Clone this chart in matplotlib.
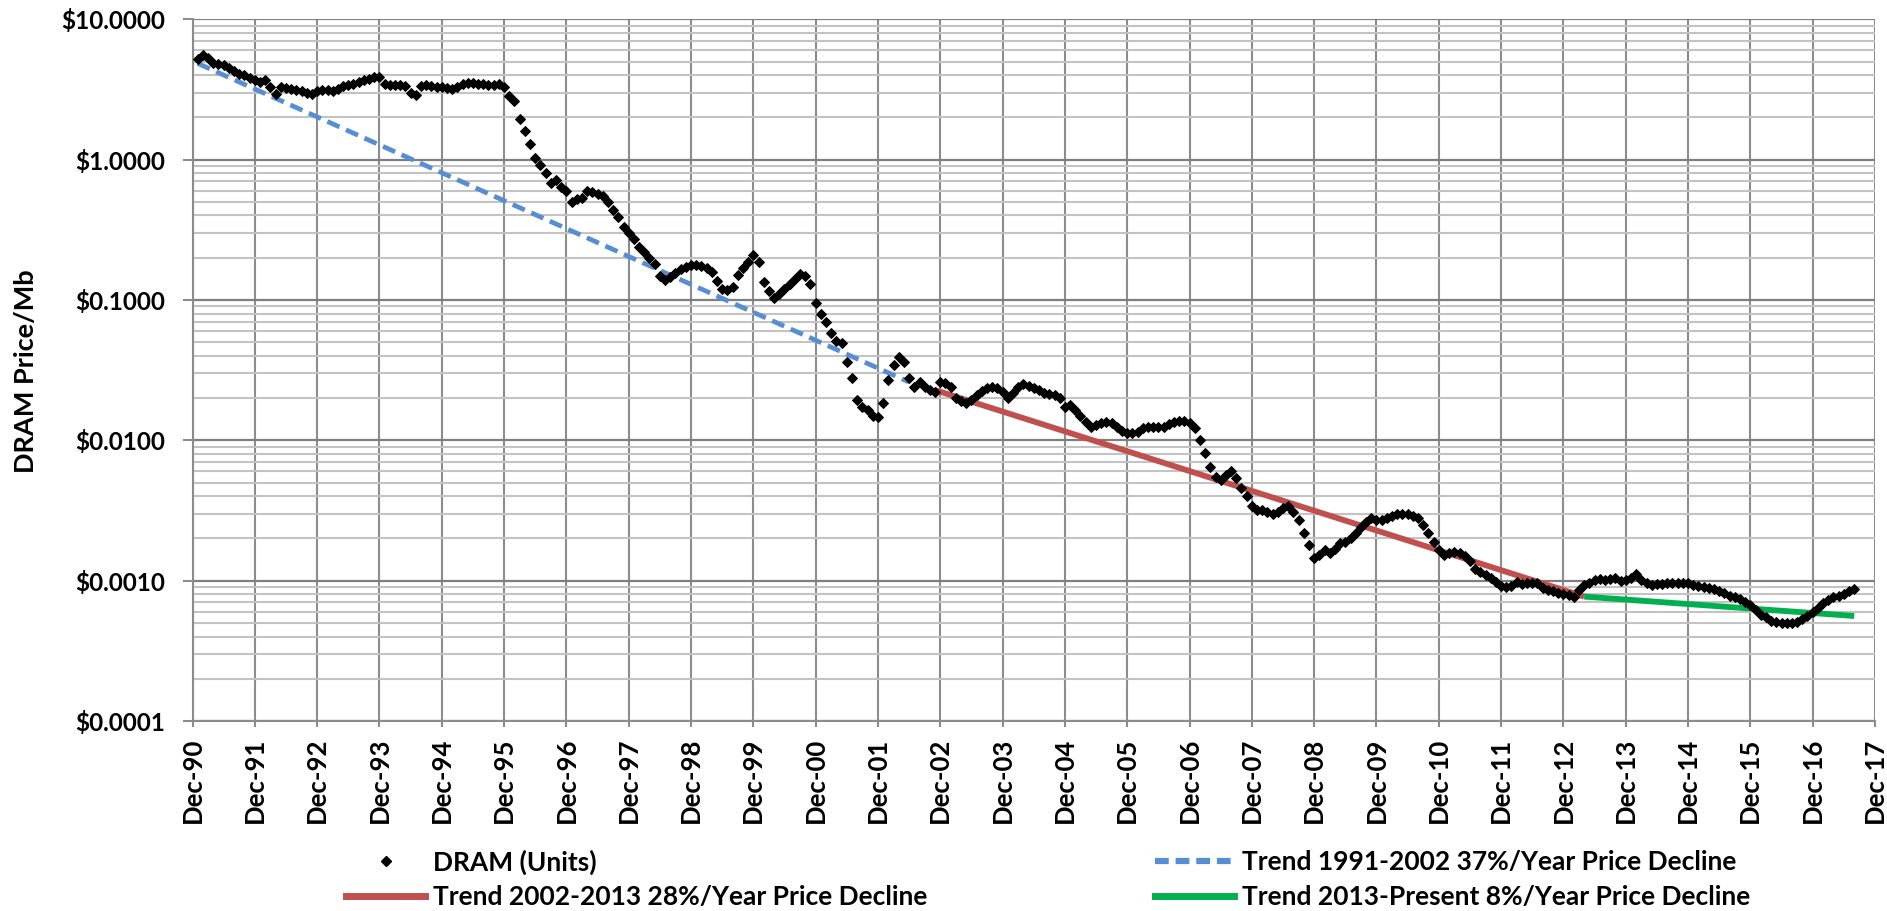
import matplotlib
matplotlib.use("Agg")
import matplotlib.pyplot as plt
from matplotlib.lines import Line2D
from matplotlib.ticker import LogLocator, NullFormatter
import numpy as np

plt.rcParams['font.family'] = ['Lato', 'DejaVu Sans']
plt.rcParams['font.weight'] = 'bold'

# monthly DRAM price per Mb, Jan through Dec of each year (last year ends in Aug)
p1991 = [5.2, 5.6, 5.3, 4.9, 4.8, 4.7, 4.5, 4.3, 4.1, 4.0, 3.8, 3.7]
p1992 = [3.6, 3.7, 3.3, 2.95, 3.3, 3.25, 3.2, 3.15, 3.1, 3.0, 2.93, 3.1]
p1993 = [3.15, 3.15, 3.1, 3.2, 3.35, 3.4, 3.45, 3.6, 3.7, 3.75, 3.85, 3.9]
p1994 = [3.45, 3.4, 3.4, 3.4, 3.35, 3.0, 2.9, 3.35, 3.4, 3.35, 3.3, 3.3]
p1995 = [3.25, 3.2, 3.3, 3.45, 3.5, 3.5, 3.45, 3.45, 3.4, 3.4, 3.45, 3.3]
p1996 = [2.85, 2.6, 1.95, 1.6, 1.3, 1.02, 0.92, 0.80, 0.68, 0.72, 0.64, 0.60]
p1997 = [0.50, 0.52, 0.53, 0.60, 0.59, 0.57, 0.55, 0.50, 0.44, 0.39, 0.33, 0.30]
p1998 = [0.27, 0.24, 0.22, 0.20, 0.18, 0.148, 0.139, 0.145, 0.155, 0.165, 0.172, 0.177]
p1999 = [0.178, 0.176, 0.170, 0.158, 0.137, 0.120, 0.118, 0.124, 0.150, 0.170, 0.185, 0.209]
p2000 = [0.185, 0.135, 0.115, 0.103, 0.110, 0.120, 0.131, 0.142, 0.152, 0.148, 0.131, 0.095]
p2001 = [0.080, 0.070, 0.058, 0.051, 0.049, 0.036, 0.028, 0.0194, 0.0173, 0.0164, 0.0150, 0.0147]
p2002 = [0.0183, 0.0269, 0.0343, 0.0394, 0.036, 0.0276, 0.0241, 0.0261, 0.0241, 0.0228, 0.0222, 0.0261]
p2003 = [0.0255, 0.0241, 0.0200, 0.0192, 0.0185, 0.0195, 0.0210, 0.0225, 0.0236, 0.0241, 0.0236, 0.0222]
p2004 = [0.0200, 0.0217, 0.0241, 0.0254, 0.0245, 0.0235, 0.0228, 0.0217, 0.0213, 0.0211, 0.0200, 0.0173]
p2005 = [0.0178, 0.0164, 0.0150, 0.0135, 0.0125, 0.0128, 0.0132, 0.0135, 0.0132, 0.0125, 0.0117, 0.0112]
p2006 = [0.0112, 0.0115, 0.0122, 0.0124, 0.0125, 0.0125, 0.0125, 0.0130, 0.0135, 0.0138, 0.0138, 0.0132]
p2007 = [0.0122, 0.0100, 0.0081, 0.0065, 0.0055, 0.0052, 0.0057, 0.0060, 0.0054, 0.0046, 0.0040, 0.0034]
p2008 = [0.0032, 0.0032, 0.0031, 0.0030, 0.0031, 0.0033, 0.0034, 0.0031, 0.0027, 0.0022, 0.0018, 0.00146]
p2009 = [0.00152, 0.00165, 0.00157, 0.00169, 0.00184, 0.00190, 0.0020, 0.0022, 0.0024, 0.0026, 0.0028, 0.0027]
p2010 = [0.0027, 0.0028, 0.0029, 0.0030, 0.0030, 0.0030, 0.0029, 0.0028, 0.0025, 0.0022, 0.0019, 0.00165]
p2011 = [0.00152, 0.00157, 0.00160, 0.00158, 0.00150, 0.00138, 0.00122, 0.00115, 0.00110, 0.00105, 0.00098, 0.00092]
p2012 = [0.00090, 0.00091, 0.00098, 0.00095, 0.00096, 0.00096, 0.00097, 0.00088, 0.00086, 0.00084, 0.00082, 0.00081]
p2013 = [0.00079, 0.00077, 0.00086, 0.00093, 0.00097, 0.00101, 0.00102, 0.00101, 0.00103, 0.00104, 0.00099, 0.00101]
p2014 = [0.00104, 0.00112, 0.00101, 0.00097, 0.00093, 0.00094, 0.00095, 0.00096, 0.00097, 0.00097, 0.00097, 0.00097]
p2015 = [0.00093, 0.00091, 0.00090, 0.00088, 0.00087, 0.00085, 0.00082, 0.00078, 0.00076, 0.00074, 0.00071, 0.00067]
p2016 = [0.00062, 0.00057, 0.00055, 0.00052, 0.00051, 0.00050, 0.00050, 0.00050, 0.00051, 0.00053, 0.00056, 0.00060]
p2017 = [0.00064, 0.00069, 0.00073, 0.00076, 0.00078, 0.00080, 0.00084, 0.00087]

# fitted trend segments: (month index since Dec-90, price at that month)
trend_1991_months = [1, 138]
trend_1991_values = [4.85, 0.026]
trend_2002_months = [143, 268]
trend_2002_values = [0.0228, 0.00077]
trend_2013_months = [268, 320]
trend_2013_values = [0.00077, 0.00056]

x_labels = ["Dec-90", "Dec-91", "Dec-92", "Dec-93", "Dec-94", "Dec-95", "Dec-96",
            "Dec-97", "Dec-98", "Dec-99", "Dec-00", "Dec-01", "Dec-02", "Dec-03",
            "Dec-04", "Dec-05", "Dec-06", "Dec-07", "Dec-08", "Dec-09", "Dec-10",
            "Dec-11", "Dec-12", "Dec-13", "Dec-14", "Dec-15", "Dec-16", "Dec-17"]
y_ticks = [1e-4, 1e-3, 1e-2, 1e-1, 1, 10]
y_labels = [r"\$0.0001", r"\$0.0010", r"\$0.0100", r"\$0.1000", r"\$1.0000", r"\$10.0000"]

prices = (p1991 + p1992 + p1993 + p1994 + p1995 + p1996 + p1997 + p1998 + p1999
          + p2000 + p2001 + p2002 + p2003 + p2004 + p2005 + p2006 + p2007 + p2008
          + p2009 + p2010 + p2011 + p2012 + p2013 + p2014 + p2015 + p2016 + p2017)
months = np.arange(1, len(prices) + 1)

BLUE = '#558ED5'
RED = '#C0504D'
GREEN = '#00B050'
GRID = '#8c8c8c'
GRID_MINOR = '#c3c3c3'

W, H = 1887, 911
fig = plt.figure(figsize=(W / 100, H / 100), dpi=100)
ax = fig.add_axes([192.5 / W, 1 - 721 / H, (1875 - 192.5) / W, (721 - 19.3) / H])

ax.set_yscale('log')
ax.set_ylim(1e-4, 10)
ax.set_xlim(0, 12 * (len(x_labels) - 1))

# grid
ax.set_xticks(np.arange(0, 12 * len(x_labels), 12))
ax.set_xticklabels(x_labels, rotation=90, fontsize=18.5, fontweight='bold')
ax.set_yticks(y_ticks)
ax.set_yticklabels(y_labels, fontsize=17.5, fontweight='bold')
ax.yaxis.set_minor_locator(LogLocator(base=10, subs=np.arange(2, 10)))
ax.yaxis.set_minor_formatter(NullFormatter())
ax.grid(which='major', axis='x', color=GRID, linewidth=1.5)
ax.grid(which='major', axis='y', color='#7f7f7f', linewidth=1.6)
ax.grid(which='minor', axis='y', color=GRID_MINOR, linewidth=1.5)
ax.set_axisbelow(True)
ax.tick_params(axis='y', which='major', length=7, width=1.5, color=GRID, pad=13)
ax.tick_params(axis='y', which='minor', length=0)
ax.tick_params(axis='x', which='major', length=4, width=1.5, color=GRID, pad=8)
for side in ['top', 'right']:
    ax.spines[side].set_visible(False)
for side in ['left', 'bottom']:
    ax.spines[side].set_color(GRID)
    ax.spines[side].set_linewidth(1.5)

# trends
ax.plot(trend_1991_months, trend_1991_values, color=BLUE, linewidth=3.4,
        dashes=(2.8, 1.5), zorder=2)
ax.plot(trend_2002_months, trend_2002_values, color=RED, linewidth=4.2,
        solid_capstyle='butt', zorder=2)
ax.plot(trend_2013_months, trend_2013_values, color=GREEN, linewidth=4.2,
        solid_capstyle='butt', zorder=2)

# price points
ax.plot(months, prices, linestyle='none', marker='D', markersize=5.2,
        markeredgewidth=0.7, color='black', zorder=3)

fig.text(26 / W, 1 - 371 / H, 'DRAM Price/Mb', rotation=90, ha='center',
         va='center', fontsize=19.5, fontweight='bold')

# legend, laid out as two columns under the axis
entries = [
    (Line2D([], [], linestyle='none', marker='D', markersize=5, color='black'),
     'DRAM (Units)', 346, 862),
    (Line2D([], [], color=RED, linewidth=5),
     'Trend 2002-2013 28%/Year Price Decline', 346, 897),
    (Line2D([], [], color=BLUE, linewidth=4.5, dashes=(2.2, 1.1)),
     'Trend 1991-2002 37%/Year Price Decline', 1155, 862),
    (Line2D([], [], color=GREEN, linewidth=5),
     'Trend 2013-Present 8%/Year Price Decline', 1155, 897),
]
for handle, label, lx, ly in entries:
    fig.legend([handle], [label], loc='center left',
               bbox_to_anchor=(lx / W, 1 - ly / H), frameon=False,
               borderpad=0, borderaxespad=0, handlelength=3.0,
               handletextpad=0.3, prop={'size': 19, 'weight': 'bold'})

fig.savefig('out.png', dpi=100)
